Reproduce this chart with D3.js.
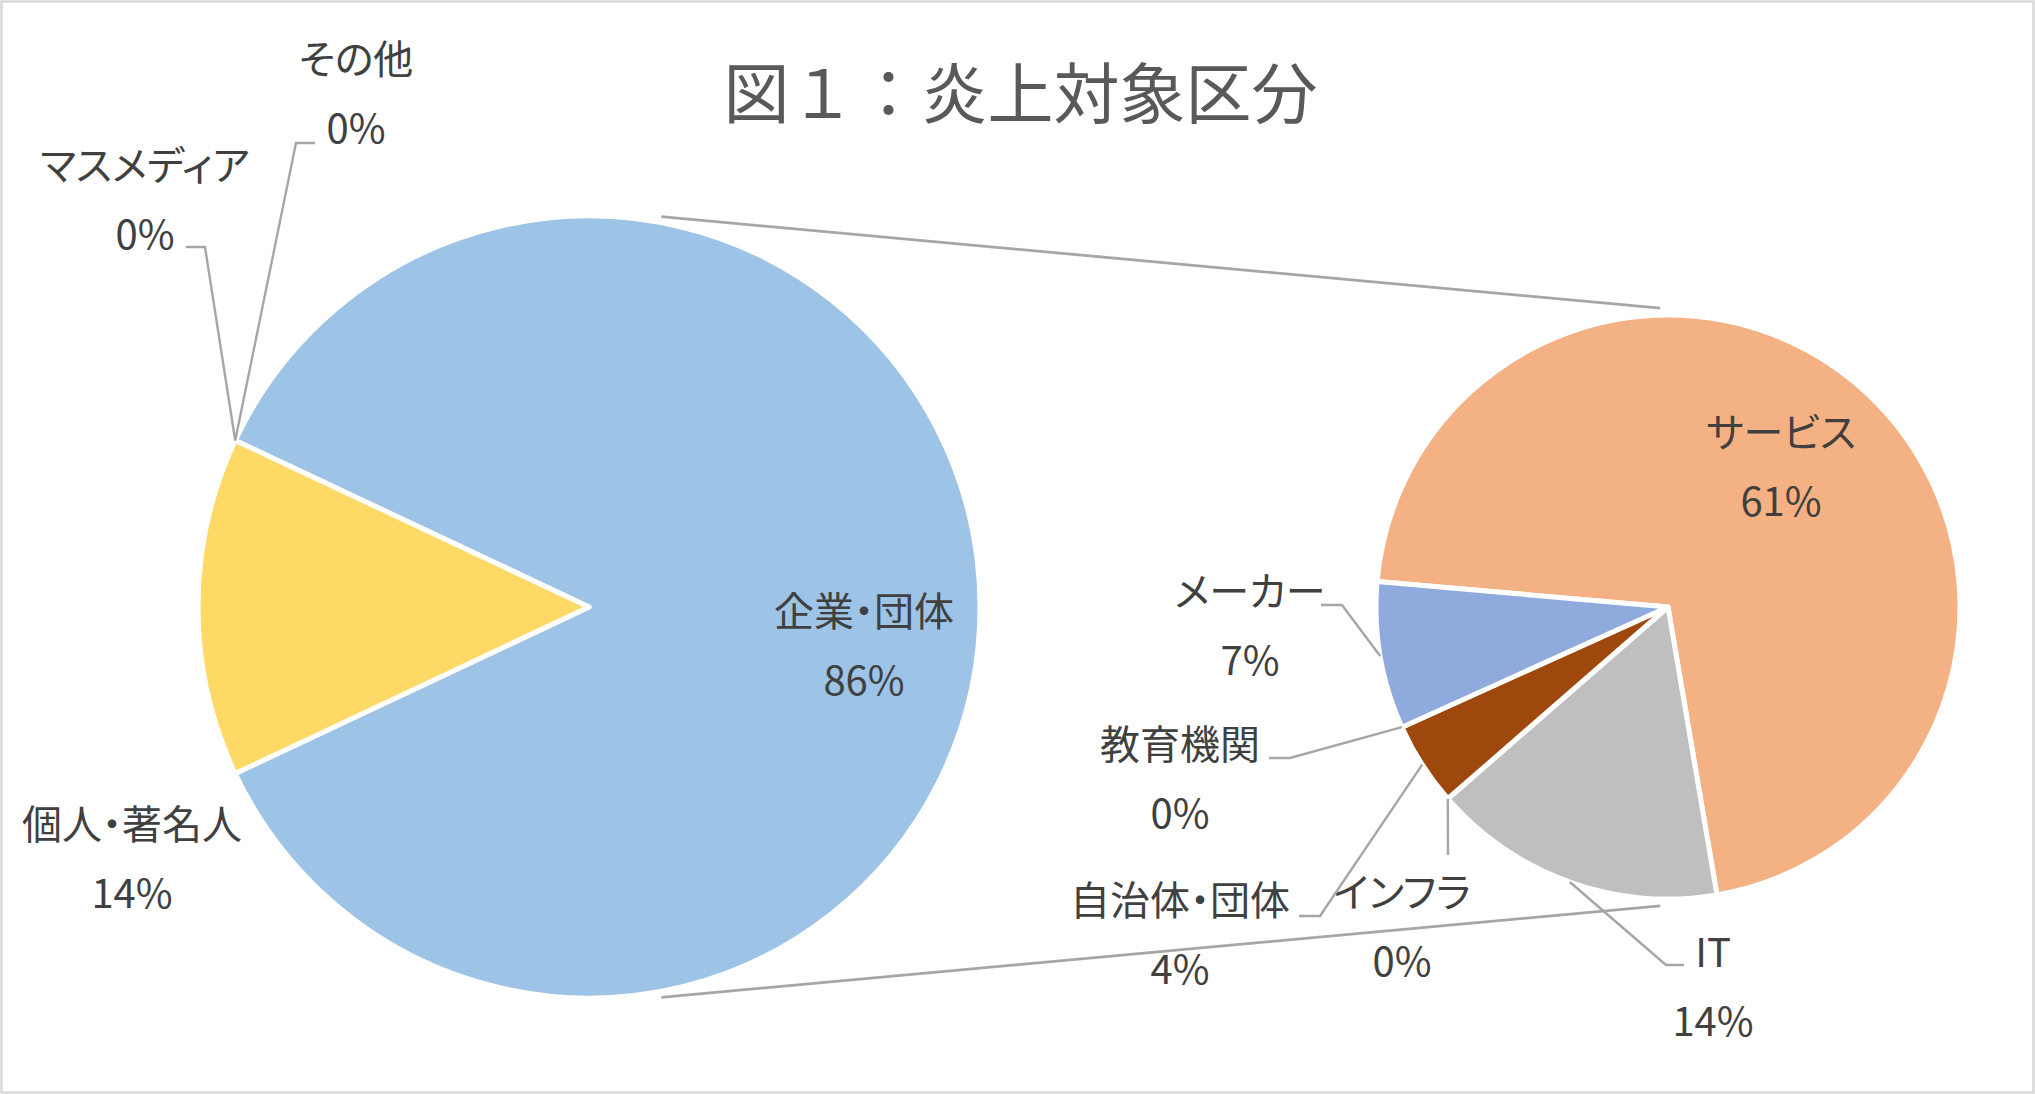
<!DOCTYPE html>
<html>
<head>
<meta charset="utf-8">
<script src="https://cdn.jsdelivr.net/npm/d3@7"></script>
<style>
  body { margin: 0; background: #fff; }
  svg { display: block; font-family: "Noto Sans CJK JP", "Noto Sans", sans-serif; }
</style>
</head>
<body>
<svg id="chart"></svg>
<script>
// Data
const title = "図１：炎上対象区分"
const mainLabels = ["企業・団体", "個人・著名人", "マスメディア", "その他"]
const mainValues = [86, 14, 0, 0]
// breakdown of 企業・団体 (share of the whole)
const subLabels = ["サービス", "IT", "インフラ", "自治体・団体", "教育機関", "メーカー"]
const subValues = [61, 14, 0, 4, 0, 7]

const mainColors = ["#9DC3E6", "#FFD966", "#A5A5A5", "#4472C4"]
const subColors = ["#F4B183", "#BFBFBF", "#70AD47", "#9E480E", "#5B9BD5", "#8FAADC"]

// Layout
const W = 2035, H = 1094
const main = {cx: 589, cy: 607, r: 391}
const sub = {cx: 1668, cy: 607, r: 292}
const rad = d => d * Math.PI / 180

// label centres and leader elbows
const labelPos = {
  "企業・団体": {x: 864, y: 612},
  "個人・著名人": {x: 132, y: 825},
  "マスメディア": {x: 145, y: 166, leader: [[205, 247], [186, 247]]},
  "その他": {x: 356, y: 60, leader: [[296, 143], [315, 143]]},
  "サービス": {x: 1781, y: 433},
  "メーカー": {x: 1250, y: 592, leader: [[1342, 605], [1321, 605]]},
  "教育機関": {x: 1180, y: 745, leader: [[1290, 758], [1269, 758]]},
  "自治体・団体": {x: 1180, y: 901, leader: [[1320, 916], [1299, 916]]},
  "インフラ": {x: 1402, y: 893, leader: [[1448, 855]]},
  "IT": {x: 1713, y: 953, leader: [[1666, 965], [1684, 965]]}
}

const total = d3.sum(mainValues)
const fmt = d3.format(".0%")

const svg = d3.select("#chart").attr("width", W).attr("height", H)

svg.append("rect")
  .attr("x", 1.5).attr("y", 1.5)
  .attr("width", W - 3).attr("height", H - 3)
  .attr("fill", "#fff")
  .attr("stroke", "#D9D9D9")
  .attr("stroke-width", 2.5)

// title
svg.append("text")
  .attr("x", W / 2 + 3)
  .attr("y", 94)
  .attr("dy", "0.36em")
  .attr("text-anchor", "middle")
  .style("font-size", "66px")
  .style("fill", "#595959")
  .text(title)

// first slice of the main pie is centred on the right, toward the second pie
const firstShare = mainValues[0] / total
const mainStart = rad(90 - firstShare * 180)
const pieMain = d3.pie().sort(null).startAngle(mainStart).endAngle(mainStart + 2 * Math.PI)
const pieSub = d3.pie().sort(null).startAngle(rad(-85)).endAngle(rad(-85) + 2 * Math.PI)

const mainArcs = pieMain(mainValues).map((d, i) => ({...d, label: mainLabels[i], color: mainColors[i]}))
const subArcs = pieSub(subValues).map((d, i) => ({...d, label: subLabels[i], color: subColors[i]}))

const edgePoint = (c, a, r) => [c.cx + r * Math.sin(a), c.cy - r * Math.cos(a)]

// connector lines between the pies
const connectors = [
  [edgePoint(main, rad(10.5), main.r + 6), edgePoint(sub, rad(-1.5), sub.r + 7)],
  [edgePoint(main, rad(169.5), main.r + 6), edgePoint(sub, rad(181.5), sub.r + 7)]
]
svg.selectAll(".connector")
  .data(connectors).join("line")
  .attr("class", "connector")
  .attr("x1", d => d[0][0]).attr("y1", d => d[0][1])
  .attr("x2", d => d[1][0]).attr("y2", d => d[1][1])
  .attr("stroke", "#A6A6A6")
  .attr("stroke-width", 2.8)

function drawPie(arcs, c, cls) {
  const arc = d3.arc().innerRadius(0).outerRadius(c.r)
  const g = svg.append("g").attr("transform", `translate(${c.cx}, ${c.cy})`)
  g.selectAll("." + cls)
    .data(arcs.filter(d => d.value > 0)).join("path")
    .attr("class", cls)
    .attr("d", arc)
    .attr("fill", d => d.color)
    .attr("stroke", "#fff")
    .attr("stroke-width", 5)
    .attr("stroke-linejoin", "round")
}
drawPie(mainArcs, main, "main_slice")
drawPie(subArcs, sub, "sub_slice")

function drawLabels(arcs, c) {
  arcs.forEach(d => {
    const p = labelPos[d.label]
    if (p.leader) {
      const mid = (d.startAngle + d.endAngle) / 2
      const pts = [edgePoint(c, mid, c.r)].concat(p.leader)
      svg.append("path")
        .attr("d", d3.line()(pts))
        .attr("fill", "none")
        .attr("stroke", "#A6A6A6")
        .attr("stroke-width", 2.4)
    }
    const t = svg.append("text")
      .attr("text-anchor", "middle")
      .style("font-size", "40px")
      .style("font-feature-settings", "'palt'")
      .style("fill", "#404040")
    t.append("tspan").attr("x", p.x).attr("y", p.y).attr("dy", "0.36em").text(d.label)
    t.append("tspan").attr("x", p.x).attr("y", p.y + 69).attr("dy", "0.36em").text(fmt(d.value / total))
  })
}
drawLabels(mainArcs, main)
drawLabels(subArcs, sub)
</script>
</body>
</html>
